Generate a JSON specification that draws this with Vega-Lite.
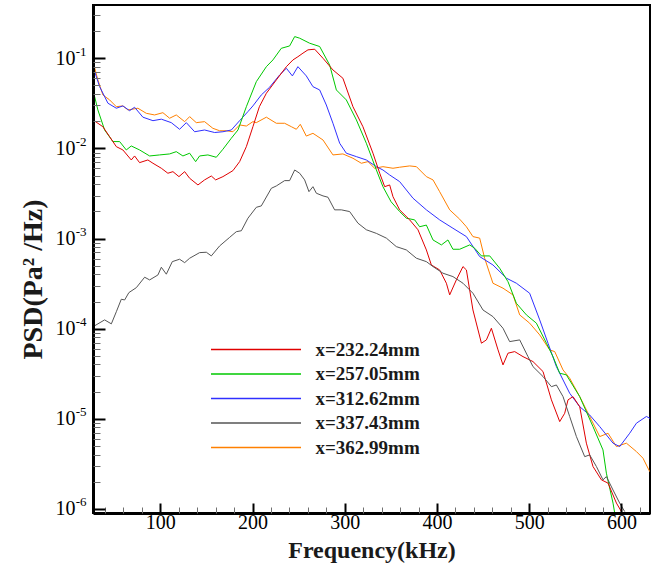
{
"$schema": "https://vega.github.io/schema/vega-lite/v6.json",
"width": 557, "height": 508,
"autosize": {"type": "none"},
"padding": {"left": 93, "top": 5, "right": 6, "bottom": 54},
"background": "white",
"config": {"view": {"stroke": "black", "strokeWidth": 2}, "font": "Liberation Serif"},
"data": {"values": [
{"freq":27,"psd":0.0917,"series":"x=362.99mm"},{"freq":32.3,"psd":0.0575,"series":"x=362.99mm"},{"freq":37.7,"psd":0.0392,"series":"x=362.99mm"},{"freq":45,"psd":0.0345,"series":"x=362.99mm"},{"freq":52.3,"psd":0.029,"series":"x=362.99mm"},{"freq":59.4,"psd":0.0296,"series":"x=362.99mm"},{"freq":64.9,"psd":0.0267,"series":"x=362.99mm"},{"freq":75.7,"psd":0.0279,"series":"x=362.99mm"},{"freq":84.8,"psd":0.0245,"series":"x=362.99mm"},{"freq":93.8,"psd":0.0235,"series":"x=362.99mm"},{"freq":102.8,"psd":0.0249,"series":"x=362.99mm"},{"freq":110.1,"psd":0.0216,"series":"x=362.99mm"},{"freq":117.3,"psd":0.0235,"series":"x=362.99mm"},{"freq":126.4,"psd":0.0198,"series":"x=362.99mm"},{"freq":131.8,"psd":0.0225,"series":"x=362.99mm"},{"freq":139,"psd":0.0193,"series":"x=362.99mm"},{"freq":148,"psd":0.0198,"series":"x=362.99mm"},{"freq":157,"psd":0.0167,"series":"x=362.99mm"},{"freq":164.3,"psd":0.0157,"series":"x=362.99mm"},{"freq":171.6,"psd":0.0157,"series":"x=362.99mm"},{"freq":178.7,"psd":0.0153,"series":"x=362.99mm"},{"freq":186,"psd":0.0182,"series":"x=362.99mm"},{"freq":193.3,"psd":0.0177,"series":"x=362.99mm"},{"freq":200.4,"psd":0.0198,"series":"x=362.99mm"},{"freq":204.1,"psd":0.0193,"series":"x=362.99mm"},{"freq":215,"psd":0.0222,"series":"x=362.99mm"},{"freq":225.8,"psd":0.019,"series":"x=362.99mm"},{"freq":234.8,"psd":0.019,"series":"x=362.99mm"},{"freq":242.1,"psd":0.0174,"series":"x=362.99mm"},{"freq":247.5,"psd":0.0163,"series":"x=362.99mm"},{"freq":251.8,"psd":0.0185,"series":"x=362.99mm"},{"freq":258.3,"psd":0.0137,"series":"x=362.99mm"},{"freq":265.5,"psd":0.0147,"series":"x=362.99mm"},{"freq":276.4,"psd":0.0124,"series":"x=362.99mm"},{"freq":287.2,"psd":0.00846,"series":"x=362.99mm"},{"freq":298,"psd":0.00868,"series":"x=362.99mm"},{"freq":308.9,"psd":0.00777,"series":"x=362.99mm"},{"freq":318,"psd":0.00684,"series":"x=362.99mm"},{"freq":325.2,"psd":0.00713,"series":"x=362.99mm"},{"freq":332.4,"psd":0.00602,"series":"x=362.99mm"},{"freq":341.4,"psd":0.00627,"series":"x=362.99mm"},{"freq":352.3,"psd":0.00602,"series":"x=362.99mm"},{"freq":359.5,"psd":0.00618,"series":"x=362.99mm"},{"freq":370.4,"psd":0.00639,"series":"x=362.99mm"},{"freq":377.7,"psd":0.00627,"series":"x=362.99mm"},{"freq":388.5,"psd":0.00486,"series":"x=362.99mm"},{"freq":395.7,"psd":0.00447,"series":"x=362.99mm"},{"freq":402.9,"psd":0.00331,"series":"x=362.99mm"},{"freq":413.8,"psd":0.00208,"series":"x=362.99mm"},{"freq":424.6,"psd":0.00164,"series":"x=362.99mm"},{"freq":431.9,"psd":0.00135,"series":"x=362.99mm"},{"freq":439,"psd":0.00105,"series":"x=362.99mm"},{"freq":446.3,"psd":0.00101,"series":"x=362.99mm"},{"freq":451.7,"psd":0.000604,"series":"x=362.99mm"},{"freq":460.7,"psd":0.000319,"series":"x=362.99mm"},{"freq":471.6,"psd":0.000281,"series":"x=362.99mm"},{"freq":482.4,"psd":0.000237,"series":"x=362.99mm"},{"freq":489.7,"psd":0.000142,"series":"x=362.99mm"},{"freq":500.5,"psd":0.000115,"series":"x=362.99mm"},{"freq":511.4,"psd":0.0000852,"series":"x=362.99mm"},{"freq":522.2,"psd":0.0000581,"series":"x=362.99mm"},{"freq":527.7,"psd":0.0000556,"series":"x=362.99mm"},{"freq":536.7,"psd":0.0000348,"series":"x=362.99mm"},{"freq":543.9,"psd":0.0000282,"series":"x=362.99mm"},{"freq":554.8,"psd":0.0000176,"series":"x=362.99mm"},{"freq":565.6,"psd":0.0000106,"series":"x=362.99mm"},{"freq":576.5,"psd":0.00000634,"series":"x=362.99mm"},{"freq":585.5,"psd":0.00000691,"series":"x=362.99mm"},{"freq":594.6,"psd":0.00000491,"series":"x=362.99mm"},{"freq":605.4,"psd":0.00000536,"series":"x=362.99mm"},{"freq":616.3,"psd":0.00000432,"series":"x=362.99mm"},{"freq":623.4,"psd":0.00000365,"series":"x=362.99mm"},{"freq":630.7,"psd":0.00000259,"series":"x=362.99mm"},

{"freq":27,"psd":0.0807,"series":"x=312.62mm"},{"freq":34.2,"psd":0.0484,"series":"x=312.62mm"},{"freq":43.2,"psd":0.0317,"series":"x=312.62mm"},{"freq":52.3,"psd":0.0279,"series":"x=312.62mm"},{"freq":59.4,"psd":0.0296,"series":"x=312.62mm"},{"freq":66.7,"psd":0.0262,"series":"x=312.62mm"},{"freq":72.1,"psd":0.0286,"series":"x=312.62mm"},{"freq":81.1,"psd":0.0222,"series":"x=312.62mm"},{"freq":92,"psd":0.0203,"series":"x=312.62mm"},{"freq":101.1,"psd":0.0211,"series":"x=312.62mm"},{"freq":111.9,"psd":0.0193,"series":"x=312.62mm"},{"freq":120.9,"psd":0.0163,"series":"x=312.62mm"},{"freq":128.2,"psd":0.0193,"series":"x=312.62mm"},{"freq":137.2,"psd":0.0153,"series":"x=312.62mm"},{"freq":148,"psd":0.016,"series":"x=312.62mm"},{"freq":158.9,"psd":0.015,"series":"x=312.62mm"},{"freq":167.9,"psd":0.0153,"series":"x=312.62mm"},{"freq":177,"psd":0.016,"series":"x=312.62mm"},{"freq":186,"psd":0.0203,"series":"x=312.62mm"},{"freq":195,"psd":0.0256,"series":"x=312.62mm"},{"freq":200.4,"psd":0.0296,"series":"x=312.62mm"},{"freq":209.5,"psd":0.0392,"series":"x=312.62mm"},{"freq":218.5,"psd":0.0477,"series":"x=312.62mm"},{"freq":229.4,"psd":0.0653,"series":"x=312.62mm"},{"freq":236.7,"psd":0.0774,"series":"x=312.62mm"},{"freq":243.2,"psd":0.0637,"series":"x=312.62mm"},{"freq":249.2,"psd":0.0807,"series":"x=312.62mm"},{"freq":258.3,"psd":0.0637,"series":"x=312.62mm"},{"freq":265.5,"psd":0.0484,"series":"x=312.62mm"},{"freq":272.8,"psd":0.0445,"series":"x=312.62mm"},{"freq":280,"psd":0.0303,"series":"x=312.62mm"},{"freq":287.2,"psd":0.019,"series":"x=312.62mm"},{"freq":294.5,"psd":0.0114,"series":"x=312.62mm"},{"freq":301.7,"psd":0.00884,"series":"x=312.62mm"},{"freq":312.6,"psd":0.0081,"series":"x=312.62mm"},{"freq":323.4,"psd":0.00744,"series":"x=312.62mm"},{"freq":334.3,"psd":0.00627,"series":"x=312.62mm"},{"freq":341.4,"psd":0.00576,"series":"x=312.62mm"},{"freq":348.7,"psd":0.00507,"series":"x=312.62mm"},{"freq":359.5,"psd":0.00428,"series":"x=312.62mm"},{"freq":374,"psd":0.0028,"series":"x=312.62mm"},{"freq":388.5,"psd":0.00208,"series":"x=312.62mm"},{"freq":402.9,"psd":0.00161,"series":"x=312.62mm"},{"freq":417.3,"psd":0.0013,"series":"x=312.62mm"},{"freq":431.9,"psd":0.00105,"series":"x=312.62mm"},{"freq":446.3,"psd":0.00063,"series":"x=312.62mm"},{"freq":460.7,"psd":0.000509,"series":"x=312.62mm"},{"freq":475.3,"psd":0.000363,"series":"x=312.62mm"},{"freq":486.1,"psd":0.000319,"series":"x=312.62mm"},{"freq":500.5,"psd":0.000247,"series":"x=312.62mm"},{"freq":511.4,"psd":0.000125,"series":"x=312.62mm"},{"freq":520.4,"psd":0.0000689,"series":"x=312.62mm"},{"freq":529.5,"psd":0.0000379,"series":"x=312.62mm"},{"freq":543.9,"psd":0.0000192,"series":"x=312.62mm"},{"freq":554.8,"psd":0.0000136,"series":"x=312.62mm"},{"freq":565.6,"psd":0.000011,"series":"x=312.62mm"},{"freq":576.5,"psd":0.00000818,"series":"x=312.62mm"},{"freq":590.9,"psd":0.00000536,"series":"x=312.62mm"},{"freq":598.1,"psd":0.00000491,"series":"x=312.62mm"},{"freq":609,"psd":0.00000691,"series":"x=312.62mm"},{"freq":616.3,"psd":0.00000893,"series":"x=312.62mm"},{"freq":627.1,"psd":0.0000106,"series":"x=312.62mm"},{"freq":631,"psd":0.0000101,"series":"x=312.62mm"},

{"freq":27,"psd":0.0445,"series":"x=257.05mm"},{"freq":32.3,"psd":0.0267,"series":"x=257.05mm"},{"freq":39.6,"psd":0.016,"series":"x=257.05mm"},{"freq":48.6,"psd":0.0119,"series":"x=257.05mm"},{"freq":55.9,"psd":0.0119,"series":"x=257.05mm"},{"freq":63.1,"psd":0.00961,"series":"x=257.05mm"},{"freq":68.5,"psd":0.01064,"series":"x=257.05mm"},{"freq":77.5,"psd":0.00961,"series":"x=257.05mm"},{"freq":88.4,"psd":0.00824,"series":"x=257.05mm"},{"freq":99.2,"psd":0.00846,"series":"x=257.05mm"},{"freq":110.1,"psd":0.00868,"series":"x=257.05mm"},{"freq":117.3,"psd":0.0092,"series":"x=257.05mm"},{"freq":124.5,"psd":0.00824,"series":"x=257.05mm"},{"freq":131.8,"psd":0.00884,"series":"x=257.05mm"},{"freq":138.3,"psd":0.00713,"series":"x=257.05mm"},{"freq":142.6,"psd":0.00824,"series":"x=257.05mm"},{"freq":151.6,"psd":0.00846,"series":"x=257.05mm"},{"freq":160.7,"psd":0.00797,"series":"x=257.05mm"},{"freq":167.9,"psd":0.00978,"series":"x=257.05mm"},{"freq":177,"psd":0.01296,"series":"x=257.05mm"},{"freq":184.2,"psd":0.016,"series":"x=257.05mm"},{"freq":193.3,"psd":0.029,"series":"x=257.05mm"},{"freq":204.1,"psd":0.055,"series":"x=257.05mm"},{"freq":215,"psd":0.0807,"series":"x=257.05mm"},{"freq":222.1,"psd":0.0958,"series":"x=257.05mm"},{"freq":231.2,"psd":0.129,"series":"x=257.05mm"},{"freq":240.2,"psd":0.137,"series":"x=257.05mm"},{"freq":245.7,"psd":0.174,"series":"x=257.05mm"},{"freq":251.1,"psd":0.167,"series":"x=257.05mm"},{"freq":261.9,"psd":0.147,"series":"x=257.05mm"},{"freq":272.8,"psd":0.135,"series":"x=257.05mm"},{"freq":283.6,"psd":0.0843,"series":"x=257.05mm"},{"freq":290.9,"psd":0.0445,"series":"x=257.05mm"},{"freq":301.7,"psd":0.0345,"series":"x=257.05mm"},{"freq":312.6,"psd":0.0207,"series":"x=257.05mm"},{"freq":323.4,"psd":0.0114,"series":"x=257.05mm"},{"freq":334.3,"psd":0.00576,"series":"x=257.05mm"},{"freq":341.4,"psd":0.00376,"series":"x=257.05mm"},{"freq":350.2,"psd":0.00256,"series":"x=257.05mm"},{"freq":359.5,"psd":0.00199,"series":"x=257.05mm"},{"freq":366.8,"psd":0.00168,"series":"x=257.05mm"},{"freq":375.8,"psd":0.00161,"series":"x=257.05mm"},{"freq":381.2,"psd":0.00135,"series":"x=257.05mm"},{"freq":388.5,"psd":0.00141,"series":"x=257.05mm"},{"freq":395.7,"psd":0.000964,"series":"x=257.05mm"},{"freq":404.8,"psd":0.000849,"series":"x=257.05mm"},{"freq":411.9,"psd":0.000964,"series":"x=257.05mm"},{"freq":417.3,"psd":0.00076,"series":"x=257.05mm"},{"freq":424.6,"psd":0.00076,"series":"x=257.05mm"},{"freq":435.5,"psd":0.000849,"series":"x=257.05mm"},{"freq":440.9,"psd":0.00078,"series":"x=257.05mm"},{"freq":448.2,"psd":0.000641,"series":"x=257.05mm"},{"freq":457.2,"psd":0.000641,"series":"x=257.05mm"},{"freq":468,"psd":0.000468,"series":"x=257.05mm"},{"freq":477,"psd":0.000332,"series":"x=257.05mm"},{"freq":486.1,"psd":0.000191,"series":"x=257.05mm"},{"freq":497,"psd":0.000142,"series":"x=257.05mm"},{"freq":507.8,"psd":0.000115,"series":"x=257.05mm"},{"freq":518.7,"psd":0.0000689,"series":"x=257.05mm"},{"freq":525.8,"psd":0.0000489,"series":"x=257.05mm"},{"freq":533.1,"psd":0.000032,"series":"x=257.05mm"},{"freq":540.3,"psd":0.0000307,"series":"x=257.05mm"},{"freq":554.8,"psd":0.0000176,"series":"x=257.05mm"},{"freq":569.2,"psd":0.00000818,"series":"x=257.05mm"},{"freq":580,"psd":0.00000451,"series":"x=257.05mm"},{"freq":583.7,"psd":0.00000249,"series":"x=257.05mm"},{"freq":590.9,"psd":0.00000116,"series":"x=257.05mm"},{"freq":592.7,"psd":0.000000903,"series":"x=257.05mm"},{"freq":596,"psd":0.00000066,"series":"x=257.05mm"},

{"freq":27,"psd":0.0207,"series":"x=232.24mm"},{"freq":37.7,"psd":0.0174,"series":"x=232.24mm"},{"freq":45,"psd":0.0135,"series":"x=232.24mm"},{"freq":52.3,"psd":0.01045,"series":"x=232.24mm"},{"freq":59.4,"psd":0.00961,"series":"x=232.24mm"},{"freq":68.5,"psd":0.00744,"series":"x=232.24mm"},{"freq":72.1,"psd":0.00824,"series":"x=232.24mm"},{"freq":77.5,"psd":0.00695,"series":"x=232.24mm"},{"freq":86.5,"psd":0.00744,"series":"x=232.24mm"},{"freq":92,"psd":0.00684,"series":"x=232.24mm"},{"freq":101.1,"psd":0.00602,"series":"x=232.24mm"},{"freq":108.2,"psd":0.0053,"series":"x=232.24mm"},{"freq":113.7,"psd":0.00552,"series":"x=232.24mm"},{"freq":120.2,"psd":0.00486,"series":"x=232.24mm"},{"freq":126.4,"psd":0.00552,"series":"x=232.24mm"},{"freq":131.8,"psd":0.00466,"series":"x=232.24mm"},{"freq":140.8,"psd":0.00393,"series":"x=232.24mm"},{"freq":148,"psd":0.00447,"series":"x=232.24mm"},{"freq":155.3,"psd":0.00494,"series":"x=232.24mm"},{"freq":160,"psd":0.00447,"series":"x=232.24mm"},{"freq":167.9,"psd":0.00486,"series":"x=232.24mm"},{"freq":178.7,"psd":0.00566,"series":"x=232.24mm"},{"freq":186,"psd":0.00713,"series":"x=232.24mm"},{"freq":193.3,"psd":0.01045,"series":"x=232.24mm"},{"freq":200.4,"psd":0.0174,"series":"x=232.24mm"},{"freq":207.4,"psd":0.029,"series":"x=232.24mm"},{"freq":215,"psd":0.0409,"series":"x=232.24mm"},{"freq":225.8,"psd":0.0575,"series":"x=232.24mm"},{"freq":236.7,"psd":0.0807,"series":"x=232.24mm"},{"freq":243.8,"psd":0.0958,"series":"x=232.24mm"},{"freq":249.2,"psd":0.104,"series":"x=232.24mm"},{"freq":254.7,"psd":0.114,"series":"x=232.24mm"},{"freq":260.1,"psd":0.124,"series":"x=232.24mm"},{"freq":267.4,"psd":0.126,"series":"x=232.24mm"},{"freq":276.4,"psd":0.1,"series":"x=232.24mm"},{"freq":287.2,"psd":0.0742,"series":"x=232.24mm"},{"freq":298,"psd":0.06,"series":"x=232.24mm"},{"freq":308.9,"psd":0.029,"series":"x=232.24mm"},{"freq":319.7,"psd":0.0174,"series":"x=232.24mm"},{"freq":330.6,"psd":0.00884,"series":"x=232.24mm"},{"freq":337.9,"psd":0.0053,"series":"x=232.24mm"},{"freq":343.3,"psd":0.00376,"series":"x=232.24mm"},{"freq":348.7,"psd":0.00393,"series":"x=232.24mm"},{"freq":352.3,"psd":0.00291,"series":"x=232.24mm"},{"freq":359.5,"psd":0.00208,"series":"x=232.24mm"},{"freq":370.4,"psd":0.00161,"series":"x=232.24mm"},{"freq":379.4,"psd":0.00125,"series":"x=232.24mm"},{"freq":388.5,"psd":0.000747,"series":"x=232.24mm"},{"freq":393.9,"psd":0.000509,"series":"x=232.24mm"},{"freq":402.9,"psd":0.000448,"series":"x=232.24mm"},{"freq":410.2,"psd":0.000319,"series":"x=232.24mm"},{"freq":413.8,"psd":0.000237,"series":"x=232.24mm"},{"freq":421,"psd":0.000347,"series":"x=232.24mm"},{"freq":428.2,"psd":0.000488,"series":"x=232.24mm"},{"freq":431.9,"psd":0.000448,"series":"x=232.24mm"},{"freq":439,"psd":0.000161,"series":"x=232.24mm"},{"freq":448.2,"psd":0.0000689,"series":"x=232.24mm"},{"freq":453.6,"psd":0.000075,"series":"x=232.24mm"},{"freq":459,"psd":0.000101,"series":"x=232.24mm"},{"freq":466.2,"psd":0.0000581,"series":"x=232.24mm"},{"freq":471.6,"psd":0.0000396,"series":"x=232.24mm"},{"freq":477,"psd":0.0000534,"series":"x=232.24mm"},{"freq":484.3,"psd":0.0000556,"series":"x=232.24mm"},{"freq":493.3,"psd":0.0000489,"series":"x=232.24mm"},{"freq":504.1,"psd":0.0000431,"series":"x=232.24mm"},{"freq":515,"psd":0.0000334,"series":"x=232.24mm"},{"freq":524.1,"psd":0.0000162,"series":"x=232.24mm"},{"freq":533.1,"psd":0.0000093,"series":"x=232.24mm"},{"freq":538.5,"psd":0.0000115,"series":"x=232.24mm"},{"freq":542.1,"psd":0.0000162,"series":"x=232.24mm"},{"freq":547.5,"psd":0.0000176,"series":"x=232.24mm"},{"freq":554.8,"psd":0.0000136,"series":"x=232.24mm"},{"freq":562,"psd":0.00000536,"series":"x=232.24mm"},{"freq":569.2,"psd":0.00000295,"series":"x=232.24mm"},{"freq":578.3,"psd":0.0000021,"series":"x=232.24mm"},{"freq":585.5,"psd":0.00000193,"series":"x=232.24mm"},{"freq":594.6,"psd":0.00000116,"series":"x=232.24mm"},{"freq":600,"psd":0.000000933,"series":"x=232.24mm"},{"freq":603.6,"psd":0.00000075,"series":"x=232.24mm"},

{"freq":27,"psd":0.000105,"series":"x=337.43mm"},{"freq":39.6,"psd":0.000125,"series":"x=337.43mm"},{"freq":46.9,"psd":0.000113,"series":"x=337.43mm"},{"freq":52.3,"psd":0.000154,"series":"x=337.43mm"},{"freq":57.7,"psd":0.000212,"series":"x=337.43mm"},{"freq":61.3,"psd":0.000208,"series":"x=337.43mm"},{"freq":65.9,"psd":0.000251,"series":"x=337.43mm"},{"freq":74,"psd":0.000285,"series":"x=337.43mm"},{"freq":83,"psd":0.000372,"series":"x=337.43mm"},{"freq":88.4,"psd":0.000347,"series":"x=337.43mm"},{"freq":97.4,"psd":0.000394,"series":"x=337.43mm"},{"freq":101.1,"psd":0.00048,"series":"x=337.43mm"},{"freq":106.5,"psd":0.000402,"series":"x=337.43mm"},{"freq":113,"psd":0.000554,"series":"x=337.43mm"},{"freq":120.9,"psd":0.000589,"series":"x=337.43mm"},{"freq":126.4,"psd":0.00054,"series":"x=337.43mm"},{"freq":131.8,"psd":0.000604,"series":"x=337.43mm"},{"freq":142.6,"psd":0.000697,"series":"x=337.43mm"},{"freq":149.9,"psd":0.000704,"series":"x=337.43mm"},{"freq":155.3,"psd":0.000641,"series":"x=337.43mm"},{"freq":164.3,"psd":0.000827,"series":"x=337.43mm"},{"freq":175.2,"psd":0.00103,"series":"x=337.43mm"},{"freq":182.4,"psd":0.00119,"series":"x=337.43mm"},{"freq":187.9,"psd":0.00122,"series":"x=337.43mm"},{"freq":195,"psd":0.00168,"series":"x=337.43mm"},{"freq":204.1,"psd":0.00222,"series":"x=337.43mm"},{"freq":209.5,"psd":0.0023,"series":"x=337.43mm"},{"freq":220.4,"psd":0.00361,"series":"x=337.43mm"},{"freq":225.8,"psd":0.00383,"series":"x=337.43mm"},{"freq":234.8,"psd":0.00439,"series":"x=337.43mm"},{"freq":240.2,"psd":0.00439,"series":"x=337.43mm"},{"freq":245.7,"psd":0.00576,"series":"x=337.43mm"},{"freq":251.1,"psd":0.0053,"series":"x=337.43mm"},{"freq":256.5,"psd":0.00447,"series":"x=337.43mm"},{"freq":261.2,"psd":0.00331,"series":"x=337.43mm"},{"freq":265.5,"psd":0.00376,"series":"x=337.43mm"},{"freq":269.2,"psd":0.00318,"series":"x=337.43mm"},{"freq":276.4,"psd":0.00297,"series":"x=337.43mm"},{"freq":281.8,"psd":0.00287,"series":"x=337.43mm"},{"freq":289,"psd":0.00208,"series":"x=337.43mm"},{"freq":296.3,"psd":0.00208,"series":"x=337.43mm"},{"freq":305.3,"psd":0.00199,"series":"x=337.43mm"},{"freq":314.3,"psd":0.00148,"series":"x=337.43mm"},{"freq":323.4,"psd":0.00125,"series":"x=337.43mm"},{"freq":334.3,"psd":0.00114,"series":"x=337.43mm"},{"freq":345.1,"psd":0.00101,"series":"x=337.43mm"},{"freq":355.9,"psd":0.000813,"series":"x=337.43mm"},{"freq":366.8,"psd":0.000747,"series":"x=337.43mm"},{"freq":377.7,"psd":0.000604,"series":"x=337.43mm"},{"freq":388.5,"psd":0.000554,"series":"x=337.43mm"},{"freq":395.7,"psd":0.000488,"series":"x=337.43mm"},{"freq":406.5,"psd":0.000412,"series":"x=337.43mm"},{"freq":417.3,"psd":0.000378,"series":"x=337.43mm"},{"freq":428.2,"psd":0.000319,"series":"x=337.43mm"},{"freq":439,"psd":0.000247,"series":"x=337.43mm"},{"freq":449.9,"psd":0.000161,"series":"x=337.43mm"},{"freq":460.7,"psd":0.000136,"series":"x=337.43mm"},{"freq":471.6,"psd":0.000101,"series":"x=337.43mm"},{"freq":478.8,"psd":0.0000718,"series":"x=337.43mm"},{"freq":489.7,"psd":0.000075,"series":"x=337.43mm"},{"freq":498.7,"psd":0.0000489,"series":"x=337.43mm"},{"freq":504.1,"psd":0.0000379,"series":"x=337.43mm"},{"freq":515,"psd":0.0000294,"series":"x=337.43mm"},{"freq":524.1,"psd":0.0000227,"series":"x=337.43mm"},{"freq":529.5,"psd":0.0000237,"series":"x=337.43mm"},{"freq":536.7,"psd":0.0000176,"series":"x=337.43mm"},{"freq":543.9,"psd":0.0000106,"series":"x=337.43mm"},{"freq":551.2,"psd":0.00000634,"series":"x=337.43mm"},{"freq":560.2,"psd":0.0000038,"series":"x=337.43mm"},{"freq":565.6,"psd":0.00000397,"series":"x=337.43mm"},{"freq":572.9,"psd":0.00000295,"series":"x=337.43mm"},{"freq":580,"psd":0.0000021,"series":"x=337.43mm"},{"freq":583.7,"psd":0.00000228,"series":"x=337.43mm"},{"freq":590.9,"psd":0.00000162,"series":"x=337.43mm"},{"freq":598.1,"psd":0.00000116,"series":"x=337.43mm"},{"freq":603.6,"psd":0.000000933,"series":"x=337.43mm"}
]},
"layer": [
{
"mark": {"type": "line", "strokeWidth": 1, "clip": true},
"encoding": {
"x": {"field": "freq", "type": "quantitative",
 "scale": {"domain": [27, 631], "nice": false, "zero": false},
 "axis": {"orient": "bottom", "title": "Frequency(kHz)", "values": [100, 200, 300, 400, 500, 600], "format": "d",
  "tickSize": -10, "tickWidth": 2, "tickColor": "black", "domainWidth": 3, "domainColor": "black",
  "labelFont": "Liberation Serif", "labelFontSize": 20, "labelColor": "black", "labelPadding": 9,
  "titleFont": "Liberation Serif", "titleFontSize": 24, "titleFontWeight": "bold", "titleColor": "#1a1a1a",
  "titleY": 44, "titleBaseline": "alphabetic", "grid": false, "zindex": 1}},
"y": {"field": "psd", "type": "quantitative",
 "scale": {"type": "log", "domain": [9e-7, 0.39], "nice": false},
 "axis": {"orient": "left", "title": "PSD(Pa² /Hz)", "values": [1e-6, 1e-5, 1e-4, 1e-3, 1e-2, 1e-1],
  "labelExpr": "'10'",
  "tickSize": -12, "tickWidth": 2, "tickColor": "black", "domainWidth": 3, "domainColor": "black",
  "labelFont": "Liberation Serif", "labelFontSize": 20, "labelColor": "black", "labelPadding": 30,
  "titleFont": "Liberation Serif", "titleFontSize": 28, "titleFontWeight": "bold", "titleColor": "#1a1a1a",
  "titleX": -60, "titleY": 274, "titleAngle": -90, "titleAlign": "center", "titleBaseline": "middle", "grid": false, "zindex": 1}},
"color": {"field": "series", "type": "nominal",
 "scale": {"domain": ["x=232.24mm", "x=257.05mm", "x=312.62mm", "x=337.43mm", "x=362.99mm"],
  "range": ["#e00000", "#00c800", "#3030ff", "#555555", "#ff8000"]},
 "legend": {"orient": "none", "legendX": 153.5, "legendY": 335, "title": null,
  "symbolType": "M-6,0H6", "symbolSize": 225, "symbolStrokeWidth": 1.5,
  "labelFont": "Liberation Serif", "labelFontSize": 19, "labelFontWeight": "bold", "labelColor": "#1a1a1a",
  "labelOffset": 50, "rowPadding": 4.5, "padding": 0, "labelLimit": 300}}
}
},
{
"mark": {"type": "point", "opacity": 0},
"encoding": {
"x": {"field": "freq", "type": "quantitative",
 "scale": {"domain": [27, 631], "nice": false, "zero": false},
 "axis": {"orient": "bottom", "title": null, "labels": false, "domain": false, "grid": false,
  "values": [40, 60, 80, 120, 140, 160, 180, 220, 240, 260, 280, 320, 340, 360, 380, 420, 440, 460, 480, 520, 540, 560, 580, 620],
  "tickSize": -6, "tickWidth": 1, "tickColor": "#707070", "zindex": 1}},
"y": {"field": "psd", "type": "quantitative",
 "scale": {"type": "log", "domain": [9e-7, 0.39], "nice": false},
 "axis": {"orient": "left", "title": null, "labels": false, "domain": false, "grid": false,
  "values": [2e-6, 3e-6, 4e-6, 5e-6, 6e-6, 7e-6, 8e-6, 9e-6, 2e-5, 3e-5, 4e-5, 5e-5, 6e-5, 7e-5, 8e-5, 9e-5, 2e-4, 3e-4, 4e-4, 5e-4, 6e-4, 7e-4, 8e-4, 9e-4, 2e-3, 3e-3, 4e-3, 5e-3, 6e-3, 7e-3, 8e-3, 9e-3, 2e-2, 3e-2, 4e-2, 5e-2, 6e-2, 7e-2, 8e-2, 9e-2, 2e-1, 3e-1],
  "tickSize": -7, "tickWidth": 1, "tickColor": "#707070", "zindex": 1}}
}
},
{
"mark": {"type": "point", "opacity": 0},
"encoding": {
"y": {"field": "psd", "type": "quantitative",
 "scale": {"type": "log", "domain": [9e-7, 0.39], "nice": false},
 "axis": {"orient": "left", "title": null, "domain": false, "ticks": false, "grid": false,
  "values": [1e-6, 1e-5, 1e-4, 1e-3, 1e-2, 1e-1],
  "labelExpr": "'-' + format(-round(log(datum.value)/LN10), 'd')",
  "labelFont": "Liberation Serif", "labelFontSize": 13, "labelColor": "black", "labelPadding": 7, "labelOffset": -7, "zindex": 1}}
}
}
],
"resolve": {"axis": {"x": "independent", "y": "independent"}}
}
